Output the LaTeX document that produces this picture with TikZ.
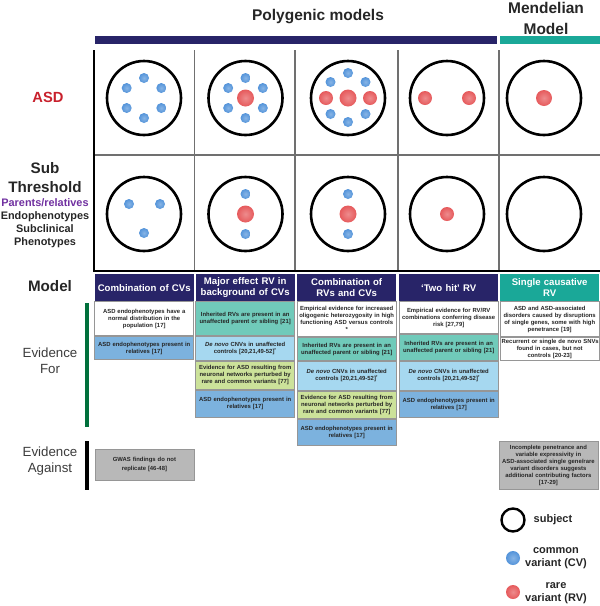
\documentclass[tikz,border=0pt]{standalone}
\usepackage{fontspec}
\setmainfont{Liberation Sans}
\usepackage{tikz}
\usetikzlibrary{positioning}
\definecolor{navy}{RGB}{40,36,104}
\definecolor{mendteal}{RGB}{26,168,152}
\definecolor{cvblue}{RGB}{84,148,218}
\definecolor{rvred}{RGB}{230,90,92}
\definecolor{inhteal}{RGB}{112,202,186}
\definecolor{cnvblue}{RGB}{166,216,240}
\definecolor{netgreen}{RGB}{204,226,154}
\definecolor{endoblue}{RGB}{124,178,222}
\definecolor{agray}{RGB}{184,184,184}
\definecolor{boxgray}{RGB}{150,150,150}
\definecolor{gridgray}{RGB}{112,112,112}
\definecolor{asdred}{RGB}{200,32,44}
\definecolor{relpurple}{RGB}{112,48,160}
\definecolor{evgreen}{RGB}{0,112,60}
\definecolor{ink}{RGB}{38,38,38}
\tikzset{
  subject/.style={circle, draw=black, line width=2.6pt, minimum size=74pt, inner sep=0pt},
  cv/.style={circle, inner sep=0pt, minimum size=10pt, inner color=cvblue!70!white, outer color=cvblue},
  rv/.style={circle, inner sep=0pt, minimum size=17pt, inner color=rvred!70!white, outer color=rvred},
  rvsmall/.style={rv, minimum size=14pt},
  modelhead/.style={anchor=north west, fill=#1, text=white, minimum height=27pt,
    text width=95pt, inner xsep=2pt, align=center, font=\fontsize{9.6}{11}\selectfont\bfseries},
  evbox/.style={draw=boxgray, line width=0.8pt, fill=#1, text=ink, text width=96pt,
    inner xsep=1.5pt, inner ysep=1pt, align=center, font=\fontsize{5.9}{7}\selectfont\bfseries},
  rowlabel/.style={text=ink, align=center, font=\fontsize{15.2}{19}\selectfont\bfseries},
  evlabel/.style={text=ink!90, align=center, font=\fontsize{13.3}{16}\selectfont},
  keytext/.style={text=ink, align=center, font=\fontsize{11}{13}\selectfont\bfseries}
}
\begin{document}
\begin{tikzpicture}[x=1pt,y=-1pt]
\useasboundingbox (0,0) rectangle (600,606);
% headings
\node[font=\fontsize{15.5}{19}\selectfont\bfseries, text=ink] (poly) at (318,17) {Polygenic models};
\node[font=\fontsize{15.5}{21}\selectfont\bfseries, text=ink, align=center] (mend) at (546,18) {Mendelian\\Model};
\fill[navy] (95,36) rectangle (497,44);
\fill[mendteal] (500,36) rectangle (600,44);
% grid
\foreach \x in {194.5,295,398,499}
  \draw[gridgray, line width=1.8pt] (\x,50) -- (\x,271);
\draw[gridgray, line width=1.8pt] (94,155) -- (600,155);
\draw[black, line width=2pt] (94,50) -- (94,272);
\draw[black, line width=2pt] (94,271) -- (600,271);
% row labels
\node[rowlabel, text=asdred, font=\fontsize{14.7}{17}\selectfont\bfseries] (asd) at (48,97) {ASD};
\node[rowlabel] (sub) at (45,177.5) {Sub\\Threshold};
\node[rowlabel, font=\fontsize{10.9}{13}\selectfont\bfseries] (rel) at (45,223) {\textcolor{relpurple}{Parents/relatives}\\Endophenotypes\\Subclinical\\Phenotypes};
\node[rowlabel] (model) at (50,286) {Model};
\node[evlabel] (evfor) at (50,361) {Evidence\\For};
\node[evlabel] (evagainst) at (50,461.5) {Evidence\\Against};
\draw[evgreen, line width=4pt] (87,303) -- (87,427);
\draw[black, line width=4pt] (87,441) -- (87,490);
% subjects
\foreach \i/\x in {1/144,2/245.5,3/348,4/447,5/544} {
  \node[subject] (s\i a) at (\x,98) {};
  \node[subject] (s\i b) at (\x,214) {};
}
% variants, ASD row
\foreach \a in {30,90,...,330}
  \node[cv] (c1a\a) at ([shift={(\a:20)}]s1a.center) {};
\node[rv] (r2a) at (s2a) {};
\foreach \a in {30,90,...,330}
  \node[cv] (c2a\a) at ([shift={(\a:20)}]s2a.center) {};
\node[rv] (r3a) at (s3a) {};
\foreach \dx/\dy [count=\k] in {0/-25,-17.5/-16,17.5/-16,-17.5/16,17.5/16,0/24}
  \node[cv] (c3a\k) at ([shift={(\dx,\dy)}]s3a.center) {};
\foreach \dx [count=\k] in {-22,22} {
  \node[rvsmall] (r3a\k) at ([shift={(\dx,0)}]s3a.center) {};
  \node[rvsmall] (r4a\k) at ([shift={(\dx,0)}]s4a.center) {};
}
\node[rv, minimum size=16pt] (r5a) at (s5a) {};
% variants, sub threshold row
\foreach \dx/\dy [count=\k] in {-15/-10,16/-10,0/19}
  \node[cv] (c1b\k) at ([shift={(\dx,\dy)}]s1b.center) {};
\foreach \i in {2,3} {
  \node[rv] (r\i b) at (s\i b) {};
  \node[cv] (c\i b1) at ([shift={(0,-20)}]s\i b.center) {};
  \node[cv] (c\i b2) at ([shift={(0,20)}]s\i b.center) {};
}
\node[rvsmall] (r4b) at (s4b) {};
% model headers
\node[modelhead=navy] (m1) at (94.5,274) {Combination of CVs};
\node[modelhead=navy] (m2) at (195.5,274) {Major effect RV in\\background of CVs};
\node[modelhead=navy] (m3) at (297,274) {Combination of\\RVs and CVs};
\node[modelhead=navy] (m4) at (399,274) {`Two hit' RV};
\node[modelhead=mendteal] (m5) at (500,274) {Single causative\\RV};
% evidence for
\node[evbox=white, minimum height=34pt, below=0pt of m1] (e1a) {ASD endophenotypes have a\\normal distribution in the\\population [17]};
\node[evbox=endoblue, minimum height=23pt, below=0pt of e1a] (e1b) {ASD endophenotypes present in\\relatives [17]};
\node[evbox=inhteal, minimum height=34pt, below=0pt of m2] (e2a) {Inherited RVs are present in an\\unaffected parent or sibling [21]};
\node[evbox=cnvblue, minimum height=24pt, below=0pt of e2a] (e2b) {\textit{De novo} CNVs in unaffected\\controls [20,21,49-52]\textsuperscript{*}};
\node[evbox=netgreen, minimum height=28pt, below=0pt of e2b] (e2c) {Evidence for ASD resulting from\\neuronal networks perturbed by\\rare and common variants [77]};
\node[evbox=endoblue, minimum height=27pt, below=0pt of e2c] (e2d) {ASD endophenotypes present in\\relatives [17]};
\node[evbox=white, minimum height=35pt, below=0pt of m3] (e3a) {Empirical evidence for increased\\oligogenic heterozygosity in high\\functioning ASD versus controls\\**};
\node[evbox=inhteal, minimum height=23pt, below=0pt of e3a] (e3b) {Inherited RVs are present in an\\unaffected parent or sibling [21]};
\node[evbox=cnvblue, minimum height=29pt, below=0pt of e3b] (e3c) {\textit{De novo} CNVs in unaffected\\controls [20,21,49-52]\textsuperscript{*}};
\node[evbox=netgreen, minimum height=27pt, below=0pt of e3c] (e3d) {Evidence for ASD resulting from\\neuronal networks perturbed by\\rare and common variants [77]};
\node[evbox=endoblue, minimum height=26pt, below=0pt of e3d] (e3e) {ASD endophenotypes present in\\relatives [17]};
\node[evbox=white, minimum height=32pt, below=0pt of m4] (e4a) {Empirical evidence for RV/RV\\combinations conferring disease\\risk [27,79]};
\node[evbox=inhteal, minimum height=26pt, below=0pt of e4a] (e4b) {Inherited RVs are present in an\\unaffected parent or sibling [21]};
\node[evbox=cnvblue, minimum height=29pt, below=0pt of e4b] (e4c) {\textit{De novo} CNVs in unaffected\\controls [20,21,49-52]\textsuperscript{*}};
\node[evbox=endoblue, minimum height=26pt, below=0pt of e4c] (e4d) {ASD endophenotypes present in\\relatives [17]};
\node[evbox=white, minimum height=35pt, below=0pt of m5] (e5a) {ASD and ASD-associated\\disorders caused by disruptions\\of single genes, some with high\\penetrance [19]};
\node[evbox=white, minimum height=23pt, below=0pt of e5a] (e5b) {\mbox{Recurrent or single de novo SNVs}\\found in cases, but not\\controls [20-23]};
% evidence against
\node[evbox=agray, anchor=north west, minimum height=31pt] (a1) at (94.5,449) {GWAS findings do not\\[2pt]replicate [46-48]};
\node[evbox=agray, anchor=north west, minimum height=48pt] (a5) at (498.5,441) {Incomplete penetrance and\\variable expressivity in\\ASD-associated single gene/rare\\variant disorders suggests\\additional contributing factors\\{}[17-29]};
% key
\node[subject, minimum size=23pt, line width=2.4pt] (ksub) at (513,520) {};
\node[keytext] (ksubt) at (553,520) {subject};
\node[cv, minimum size=14pt] (kcv) at (513,558) {};
\node[keytext] (kcvt) at (556,558.5) {common\\variant (CV)};
\node[rv, minimum size=14pt] (krv) at (513,592) {};
\node[keytext] (krvt) at (556,593.5) {rare\\variant (RV)};
\end{tikzpicture}
\end{document}
